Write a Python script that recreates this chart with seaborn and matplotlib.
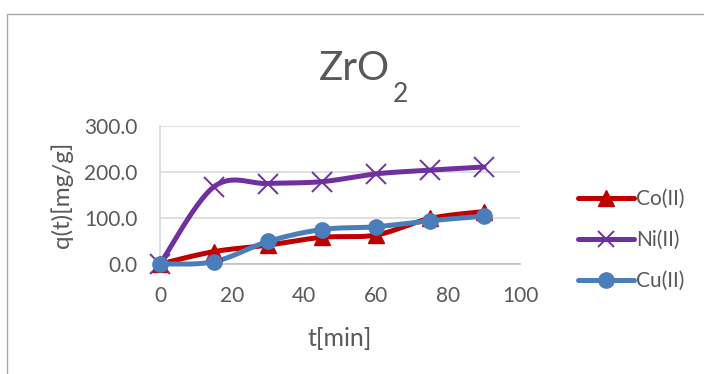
import numpy as np
import pandas as pd
import matplotlib
matplotlib.use("Agg")
import matplotlib.pyplot as plt
import seaborn as sns
from matplotlib.lines import Line2D
from matplotlib.patches import Rectangle

# ---- data ----
t = [0, 15, 30, 45, 60, 75, 90]
co = [0, 27, 41, 58, 63, 99, 114]
ni = [0, 168, 175, 179, 196, 204, 211]
cu = [0, 5, 49, 75, 81, 94, 104]
series_names = ["Co(II)", "Ni(II)", "Cu(II)"]
colors = ["#C00000", "#7030A0", "#4A7EBB"]
markers = ["^", "x", "o"]
x_ticks = [0, 20, 40, 60, 80, 100]
y_ticks = [0, 100, 200, 300]

def smooth(x, y, n=30):
    x = np.asarray(x, float); y = np.asarray(y, float)
    px = np.concatenate([[x[0]], x, [x[-1]]])
    py = np.concatenate([[y[0]], y, [y[-1]]])
    xs, ys = [], []
    s = np.linspace(0, 1, n)
    for i in range(1, len(px) - 2):
        p0 = np.array([px[i], py[i]]); p3 = np.array([px[i+1], py[i+1]])
        p1 = p0 + (np.array([px[i+1], py[i+1]]) - np.array([px[i-1], py[i-1]])) / 6
        p2 = p3 - (np.array([px[i+2], py[i+2]]) - np.array([px[i], py[i]])) / 6
        b = ((1-s)**3)[:, None]*p0 + (3*(1-s)**2*s)[:, None]*p1 + (3*(1-s)*s**2)[:, None]*p2 + (s**3)[:, None]*p3
        xs.extend(b[:, 0]); ys.extend(b[:, 1])
    return np.array(xs), np.array(ys)

sns.set_theme(style="white")
plt.rcParams['font.family'] = ['Lato', 'DejaVu Sans']
gray = "#595959"
W, H = 704, 374

fig = plt.figure(figsize=(7.04, 3.74), dpi=100)
fig.patches.append(Rectangle((7/W, -0.1), 1.0, 1 - 14/H + 0.1, transform=fig.transFigure,
                             fill=False, edgecolor="#A6A6A6", linewidth=1.0))

ax = fig.add_axes([160/W, 1 - 264/H, 360/W, 138/H])
ax.set_xlim(0, 100)
ax.set_ylim(0, 300)

for name, ys, c, m in zip(series_names, [co, ni, cu], colors, markers):
    sx, sy = smooth(t, ys)
    sns.lineplot(x=sx, y=sy, ax=ax, color=c, linewidth=3.6, sort=False, clip_on=False, zorder=3)
    if m == "x":
        ax.plot(t, ys, linestyle="none", marker="x", markersize=14, markeredgewidth=1.4,
                color=c, clip_on=False, zorder=4)
    else:
        ax.plot(t, ys, linestyle="none", marker=m, markersize=11, color=c,
                clip_on=False, zorder=4)

ax.set_xticks(x_ticks)
ax.set_yticks(y_ticks)
ax.set_yticklabels([f"{v:.1f}" for v in y_ticks])
ax.tick_params(axis="both", length=0, labelsize=15, colors=gray, pad=16)
ax.grid(axis="y", color="#D9D9D9", linewidth=1.2)
for s in ["top", "right"]:
    ax.spines[s].set_visible(False)
ax.spines["left"].set_color("#D9D9D9")
ax.spines["bottom"].set_color("#BFBFBF")
ax.spines["bottom"].set_linewidth(1.2)

ax.set_xlabel("t[min]", fontsize=18, color=gray, labelpad=15)
ax.set_ylabel("q(t)[mg/g]", fontsize=17.5, color=gray, labelpad=8)

main_t = fig.text(319/W, 1 - 80/H, "ZrO", fontsize=29, color=gray, ha="left", va="baseline")
fig.canvas.draw()
bb = main_t.get_window_extent()
fig.text((bb.x1 + 3)/W, 1 - 102/H, "2", fontsize=19, color=gray, ha="left", va="baseline")

handles = [Line2D([0], [0], color=c, marker=m, linewidth=3.6,
                  markersize=(12 if m == "x" else 11), markeredgewidth=(1.4 if m == "x" else 1))
           for c, m in zip(colors, markers)]
leg = fig.legend(handles, series_names, loc="center left", bbox_to_anchor=(578/W, 1 - 240/H),
                 frameon=False, fontsize=15, handlelength=2.7, handletextpad=0.1,
                 labelspacing=1.0, labelcolor=gray, borderpad=0, borderaxespad=0)

fig.savefig("out.png", dpi=100)
